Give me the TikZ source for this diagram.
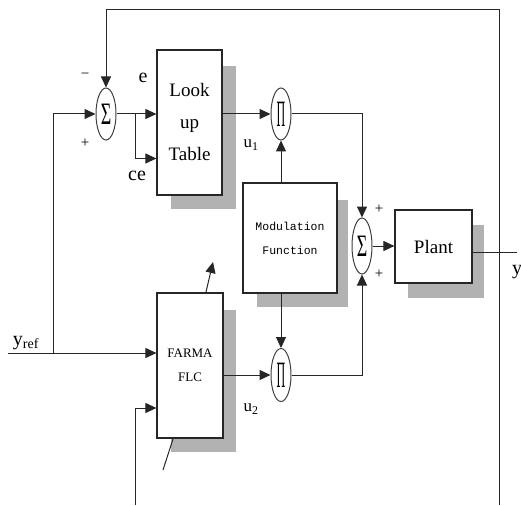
\documentclass[tikz,border=0pt]{standalone}
\usepackage{fontspec}
\setmainfont{Liberation Serif}
\newfontfamily\modfont{Liberation Mono}
\usetikzlibrary{arrows.meta,shapes.geometric,calc}
\tikzset{
  conn/.style={line width=1pt,draw=black!85},
  arr/.style={conn,-{Triangle[length=11pt,width=10pt]}},
  blk/.style={draw=black!85,line width=1.2pt,fill=white,rectangle,inner sep=0pt,align=center},
  shad/.style={fill=black!30,draw=none},
  oval/.style={draw=black!75,line width=1pt,ellipse,inner sep=0pt,minimum width=20pt,fill=white},
  lbl/.style={inner sep=0pt,font=\fontsize{20}{20}\selectfont},
  sgn/.style={inner sep=0pt,font=\fontsize{15}{15}\selectfont},
}
\newcommand{\bigsig}{\scalebox{0.75}[1.3]{\fontsize{24}{24}\selectfont Σ}}
\newcommand{\prodsym}{\scalebox{0.5}[1.55]{\fontsize{24}{24}\selectfont Π}}
\begin{document}
\begin{tikzpicture}[x=1pt,y=-1pt]
\useasboundingbox (0,0) rectangle (521,505);
% shadows
\fill[shad] (171,66) rectangle (236,209);
\fill[shad] (257,200) rectangle (348,307);
\fill[shad] (408,225) rectangle (484,298);
\fill[shad] (171,310) rectangle (236,452);
% blocks
\node[blk,minimum width=65pt,minimum height=145pt,font=\fontsize{19}{32}\selectfont] (lut) at (189.5,122.5) {Look\\up\\Table};
\node[blk,minimum width=94pt,minimum height=110pt,font=\modfont\fontsize{11.5}{24}\selectfont] (mod) at (290,238) {Modulation\\Function};
\node[blk,minimum width=77pt,minimum height=73pt,font=\fontsize{19}{19}\selectfont] (plant) at (433.5,246.5) {Plant};
\node[blk,minimum width=66pt,minimum height=145pt,font=\fontsize{13}{24}\selectfont] (farma) at (190,365.5) {FARMA\\FLC};
% ovals
\node[oval,minimum height=52pt] (sum1) at (106,114) {\bigsig};
\node[oval,minimum height=52pt] (prod1) at (281,114) {\prodsym};
\node[oval,minimum height=56pt] (sum2) at (362,246) {\bigsig};
\node[oval,minimum height=53pt] (prod2) at (281,375) {\prodsym};
% coordinates
\coordinate (fbB) at (499,505);
\coordinate (fbR) at (499,10);
\coordinate (yin) at (8,353);
\coordinate (br1) at (53,353);
\coordinate (br2) at (135,114);
\coordinate (bin) at (135,505);
\coordinate (yout) at (517,252);
\coordinate (adA) at (206,292);
\coordinate (adB) at (213,262);
\coordinate (adC) at (173,439);
\coordinate (adD) at (163,470);
% connectors
\draw[arr] (fbB) -- (fbR) -| (sum1.north);
\draw[arr] (yin) -- (farma.west |- yin);
\draw[arr] (br1) |- (sum1.west);
\draw[arr] (sum1.east) -- (lut.west |- sum1.east);
\draw[arr] (br2) |- ([yshift=-36pt]lut.west);
\draw[arr] (lut.east |- prod1.west) -- (prod1.west);
\draw[arr] (prod1.east) -| (sum2.north);
\draw[arr] (mod.north -| prod1.south) -- (prod1.south);
\draw[arr] (mod.south -| prod2.north) -- (prod2.north);
\draw[arr] (farma.east |- prod2.west) -- (prod2.west);
\draw[arr] (prod2.east) -| (sum2.south);
\draw[arr] (sum2.east) -- (plant.west |- sum2.east);
\draw[conn] (plant.east |- yout) -- (yout);
\draw[arr] (bin) |- ([yshift=-42.5pt]farma.west);
\draw[arr] (adA) -- (adB);
\draw[conn] (adC) -- (adD);
% labels
\node[sgn] (m1) at (85,76) {−};
\node[sgn] (p1) at (85,143) {+};
\node[lbl] (le) at (143,78) {e};
\node[lbl] (lce) at (137,176) {ce};
\node[inner sep=0pt,font=\fontsize{17}{17}\selectfont] (lu1) at (251,145) {u\textsubscript{1}};
\node[inner sep=0pt,font=\fontsize{17}{17}\selectfont] (lu2) at (251,409) {u\textsubscript{2}};
\node[sgn] (p2) at (379,209) {+};
\node[sgn] (p3) at (379,274) {+};
\node[lbl] (ly) at (517,272) {y};
\node[inner sep=0pt,font=\fontsize{20}{20}\selectfont] (lyref) at (26,343) {y\textsubscript{ref}};
\end{tikzpicture}
\end{document}
